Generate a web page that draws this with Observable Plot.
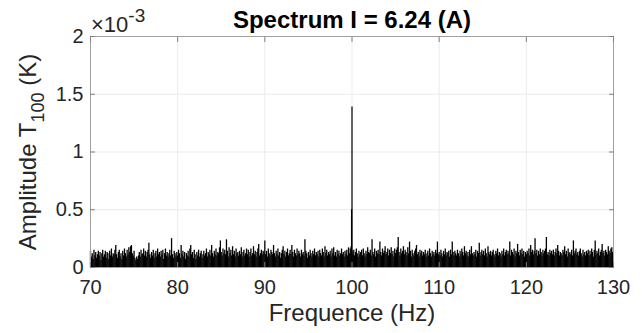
<!DOCTYPE html>
<html><head><meta charset="utf-8">
<script src="https://cdn.jsdelivr.net/npm/d3@7"></script>
<script src="https://cdn.jsdelivr.net/npm/@observablehq/plot@0.6"></script>
<style>html,body{margin:0;padding:0;background:#fff}svg{display:block}</style>
</head><body><div id="chart"></div>
<script>
const title = "Spectrum I = 6.24 (A)";
const xLabel = "Frequence (Hz)";
const yLabelMain = "Amplitude T";
const yLabelSub = "100";
const yLabelUnit = " (K)";
const yExpBase = "\u00d710";
const yExpPow = "-3";
const xTicks = [70, 80, 90, 100, 110, 120, 130];
const yTicks = [0, 0.5, 1, 1.5, 2];
const yTickLabels = ["0", "0.5", "1", "1.5", "2"];
// noise spectrum, amplitude in 1e-3 K, one value per 0.1 Hz bin from 70 Hz
const freqStart = 70;
const freqStep = 0.1;
const noiseAmp = [
 .14,.09,.12,.07,.15,.10,.13,.08,.11,.14,
 .10,.13,.06,.12,.15,.09,.11,.14,.08,.13,
 .12,.07,.14,.10,.16,.09,.12,.11,.15,.19,
 .11,.08,.13,.15,.09,.12,.07,.14,.10,.16,
 .12,.09,.15,.11,.17,.13,.18,.19,.12,.10,
 .14,.08,.06,.09,.07,.10,.13,.09,.15,.11,
 .12,.16,.10,.14,.09,.13,.15,.21,.11,.08,
 .13,.10,.15,.08,.12,.14,.09,.16,.11,.13,
 .09,.14,.11,.15,.07,.12,.16,.10,.13,.09,
 .12,.15,.10,.25,.11,.08,.14,.12,.09,.13,
 .10,.15,.12,.08,.19,.11,.14,.09,.13,.07,
 .12,.10,.14,.09,.16,.19,.11,.13,.08,.15,
 .11,.07,.13,.10,.15,.09,.12,.14,.08,.11,
 .14,.10,.12,.16,.09,.13,.11,.15,.10,.19,
 .12,.09,.14,.11,.16,.10,.13,.12,.17,.23,
 .13,.10,.16,.12,.15,.11,.24,.14,.09,.17,
 .12,.15,.10,.18,.11,.14,.09,.16,.12,.13,
 .10,.14,.11,.17,.09,.13,.15,.10,.12,.16,
 .11,.15,.09,.13,.16,.10,.12,.18,.11,.14,
 .09,.13,.16,.20,.10,.12,.15,.11,.14,.13,
 .23,.11,.14,.09,.16,.12,.10,.15,.13,.11,
 .19,.12,.09,.14,.11,.16,.10,.13,.08,.12,
 .15,.18,.11,.14,.09,.13,.16,.10,.12,.15,
 .11,.19,.13,.09,.15,.12,.10,.16,.11,.14,
 .12,.09,.15,.11,.13,.10,.24,.14,.12,.08,
 .13,.10,.15,.12,.09,.14,.11,.16,.10,.13,
 .11,.14,.09,.15,.12,.10,.16,.13,.09,.18,
 .12,.15,.10,.13,.11,.14,.09,.16,.12,.17,
 .10,.13,.09,.15,.11,.14,.10,.12,.16,.11,
 .13,.09,.14,.11,.15,.10,.17,.12,.16,.18,
 .14,.11,.15,.10,.13,.16,.12,.09,.14,.11,
 .13,.15,.10,.16,.12,.09,.14,.11,.17,.13,
 .12,.15,.10,.24,.13,.11,.16,.09,.14,.12,
 .15,.11,.22,.13,.10,.16,.12,.14,.18,.11,
 .13,.16,.10,.15,.12,.17,.11,.14,.09,.16,
 .12,.15,.17,.26,.13,.10,.16,.12,.14,.18,
 .11,.15,.13,.10,.17,.12,.22,.14,.09,.15,
 .12,.10,.14,.16,.19,.11,.13,.09,.15,.12,
 .14,.10,.13,.11,.15,.09,.12,.14,.10,.16,
 .12,.09,.14,.11,.13,.10,.15,.12,.22,.11,
 .13,.10,.15,.12,.09,.14,.11,.16,.10,.13,
 .12,.14,.09,.15,.11,.22,.13,.10,.14,.12,
 .10,.15,.12,.09,.14,.11,.16,.13,.10,.18,
 .12,.14,.10,.13,.09,.15,.11,.18,.12,.10,
 .13,.11,.15,.09,.14,.12,.21,.10,.13,.15,
 .11,.14,.10,.16,.12,.09,.18,.13,.11,.14,
 .10,.13,.15,.11,.09,.14,.12,.16,.10,.13,
 .12,.09,.14,.11,.16,.10,.13,.15,.11,.14,
 .12,.22,.10,.15,.13,.11,.16,.09,.14,.12,
 .20,.13,.10,.15,.12,.16,.11,.14,.09,.13,
 .11,.14,.12,.16,.10,.19,.13,.15,.11,.14,
 .25,.12,.15,.10,.14,.11,.16,.13,.10,.15,
 .12,.14,.16,.26,.11,.13,.10,.15,.12,.14,
 .11,.15,.10,.13,.16,.12,.19,.14,.10,.13,
 .12,.10,.15,.13,.18,.11,.14,.09,.16,.12,
 .13,.11,.15,.10,.23,.12,.14,.16,.11,.13,
 .10,.14,.16,.12,.09,.15,.11,.13,.10,.14,
 .12,.15,.10,.14,.11,.16,.13,.09,.15,.23,
 .11,.14,.12,.16,.10,.13,.15,.20,.12,.14,
 .10,.15,.13,.11,.18,.14,.12,.16,.17,.13
];
const peakFreq = [99.95, 100.0];
const peakAmp = [0.50, 1.39];

const noise = noiseAmp.map((a, i) => ({f: freqStart + i * freqStep, a}));
const peaks = peakFreq.map((f, i) => ({f, a: peakAmp[i]}));

const font = "'Liberation Sans', Arial, Helvetica, sans-serif";
const ink = "#262626";

const svg = Plot.plot({
  width: 642, height: 333,
  marginLeft: 90, marginRight: 29, marginTop: 36, marginBottom: 66,
  style: {fontFamily: font, fontSize: "20px", color: ink, background: "#fff", overflow: "visible"},
  x: {domain: [70, 130], label: null},
  y: {domain: [0, 2], label: null},
  marks: [
    Plot.gridX(xTicks, {stroke: "#ebebeb", strokeOpacity: 1}),
    Plot.gridY(yTicks, {stroke: "#ebebeb", strokeOpacity: 1}),
    Plot.ruleX(noise, {x: "f", y1: 0, y2: "a", stroke: "#000", strokeWidth: 1.3}),
    Plot.ruleX(peaks, {x: "f", y1: 0, y2: "a", stroke: "#000", strokeWidth: 1.2}),
    Plot.frame({stroke: "#a0a0a0"}),
    Plot.axisX(xTicks, {anchor: "bottom", tickSize: 0, tickPadding: 12, fontSize: 20, fill: ink}),
    Plot.axisX(xTicks, {anchor: "bottom", tickSize: -5, tickFormat: () => "", stroke: "#808080"}),
    Plot.axisX(xTicks, {anchor: "top", tickSize: -5, tickFormat: () => "", stroke: "#808080"}),
    Plot.axisY(yTicks, {anchor: "left", tickSize: 0, tickPadding: 7, fontSize: 20, fill: ink,
      tickFormat: (d) => yTickLabels[yTicks.indexOf(d)]}),
    Plot.axisY(yTicks, {anchor: "left", tickSize: -5, tickFormat: () => "", stroke: "#808080"}),
    Plot.axisY(yTicks, {anchor: "right", tickSize: -5, tickFormat: () => "", stroke: "#808080"})
  ]
});
document.getElementById("chart").appendChild(svg);

const s = d3.select(svg);
s.append("text")
  .attr("x", 352).attr("y", 28)
  .attr("text-anchor", "middle")
  .style("font-family", font).style("font-size", "24px").style("font-weight", "bold").style("fill", "#000")
  .text(title);
s.append("text")
  .attr("x", 352).attr("y", 321)
  .attr("text-anchor", "middle")
  .style("font-family", font).style("font-size", "24px").style("fill", ink)
  .text(xLabel);
const yl = s.append("text")
  .attr("transform", "translate(36,152) rotate(-90)")
  .attr("text-anchor", "middle")
  .style("font-family", font).style("font-size", "24px").style("fill", ink);
yl.append("tspan").text(yLabelMain);
yl.append("tspan").attr("dy", 8).style("font-size", "18px").text(yLabelSub);
yl.append("tspan").attr("dy", -8).text(yLabelUnit);
const ex = s.append("text")
  .attr("x", 91).attr("y", 32)
  .attr("text-anchor", "start")
  .style("font-family", font).style("font-size", "22px").style("fill", ink);
ex.append("tspan").text(yExpBase);
ex.append("tspan").attr("dy", -10).style("font-size", "19px").text(yExpPow);
</script>
</body></html>
